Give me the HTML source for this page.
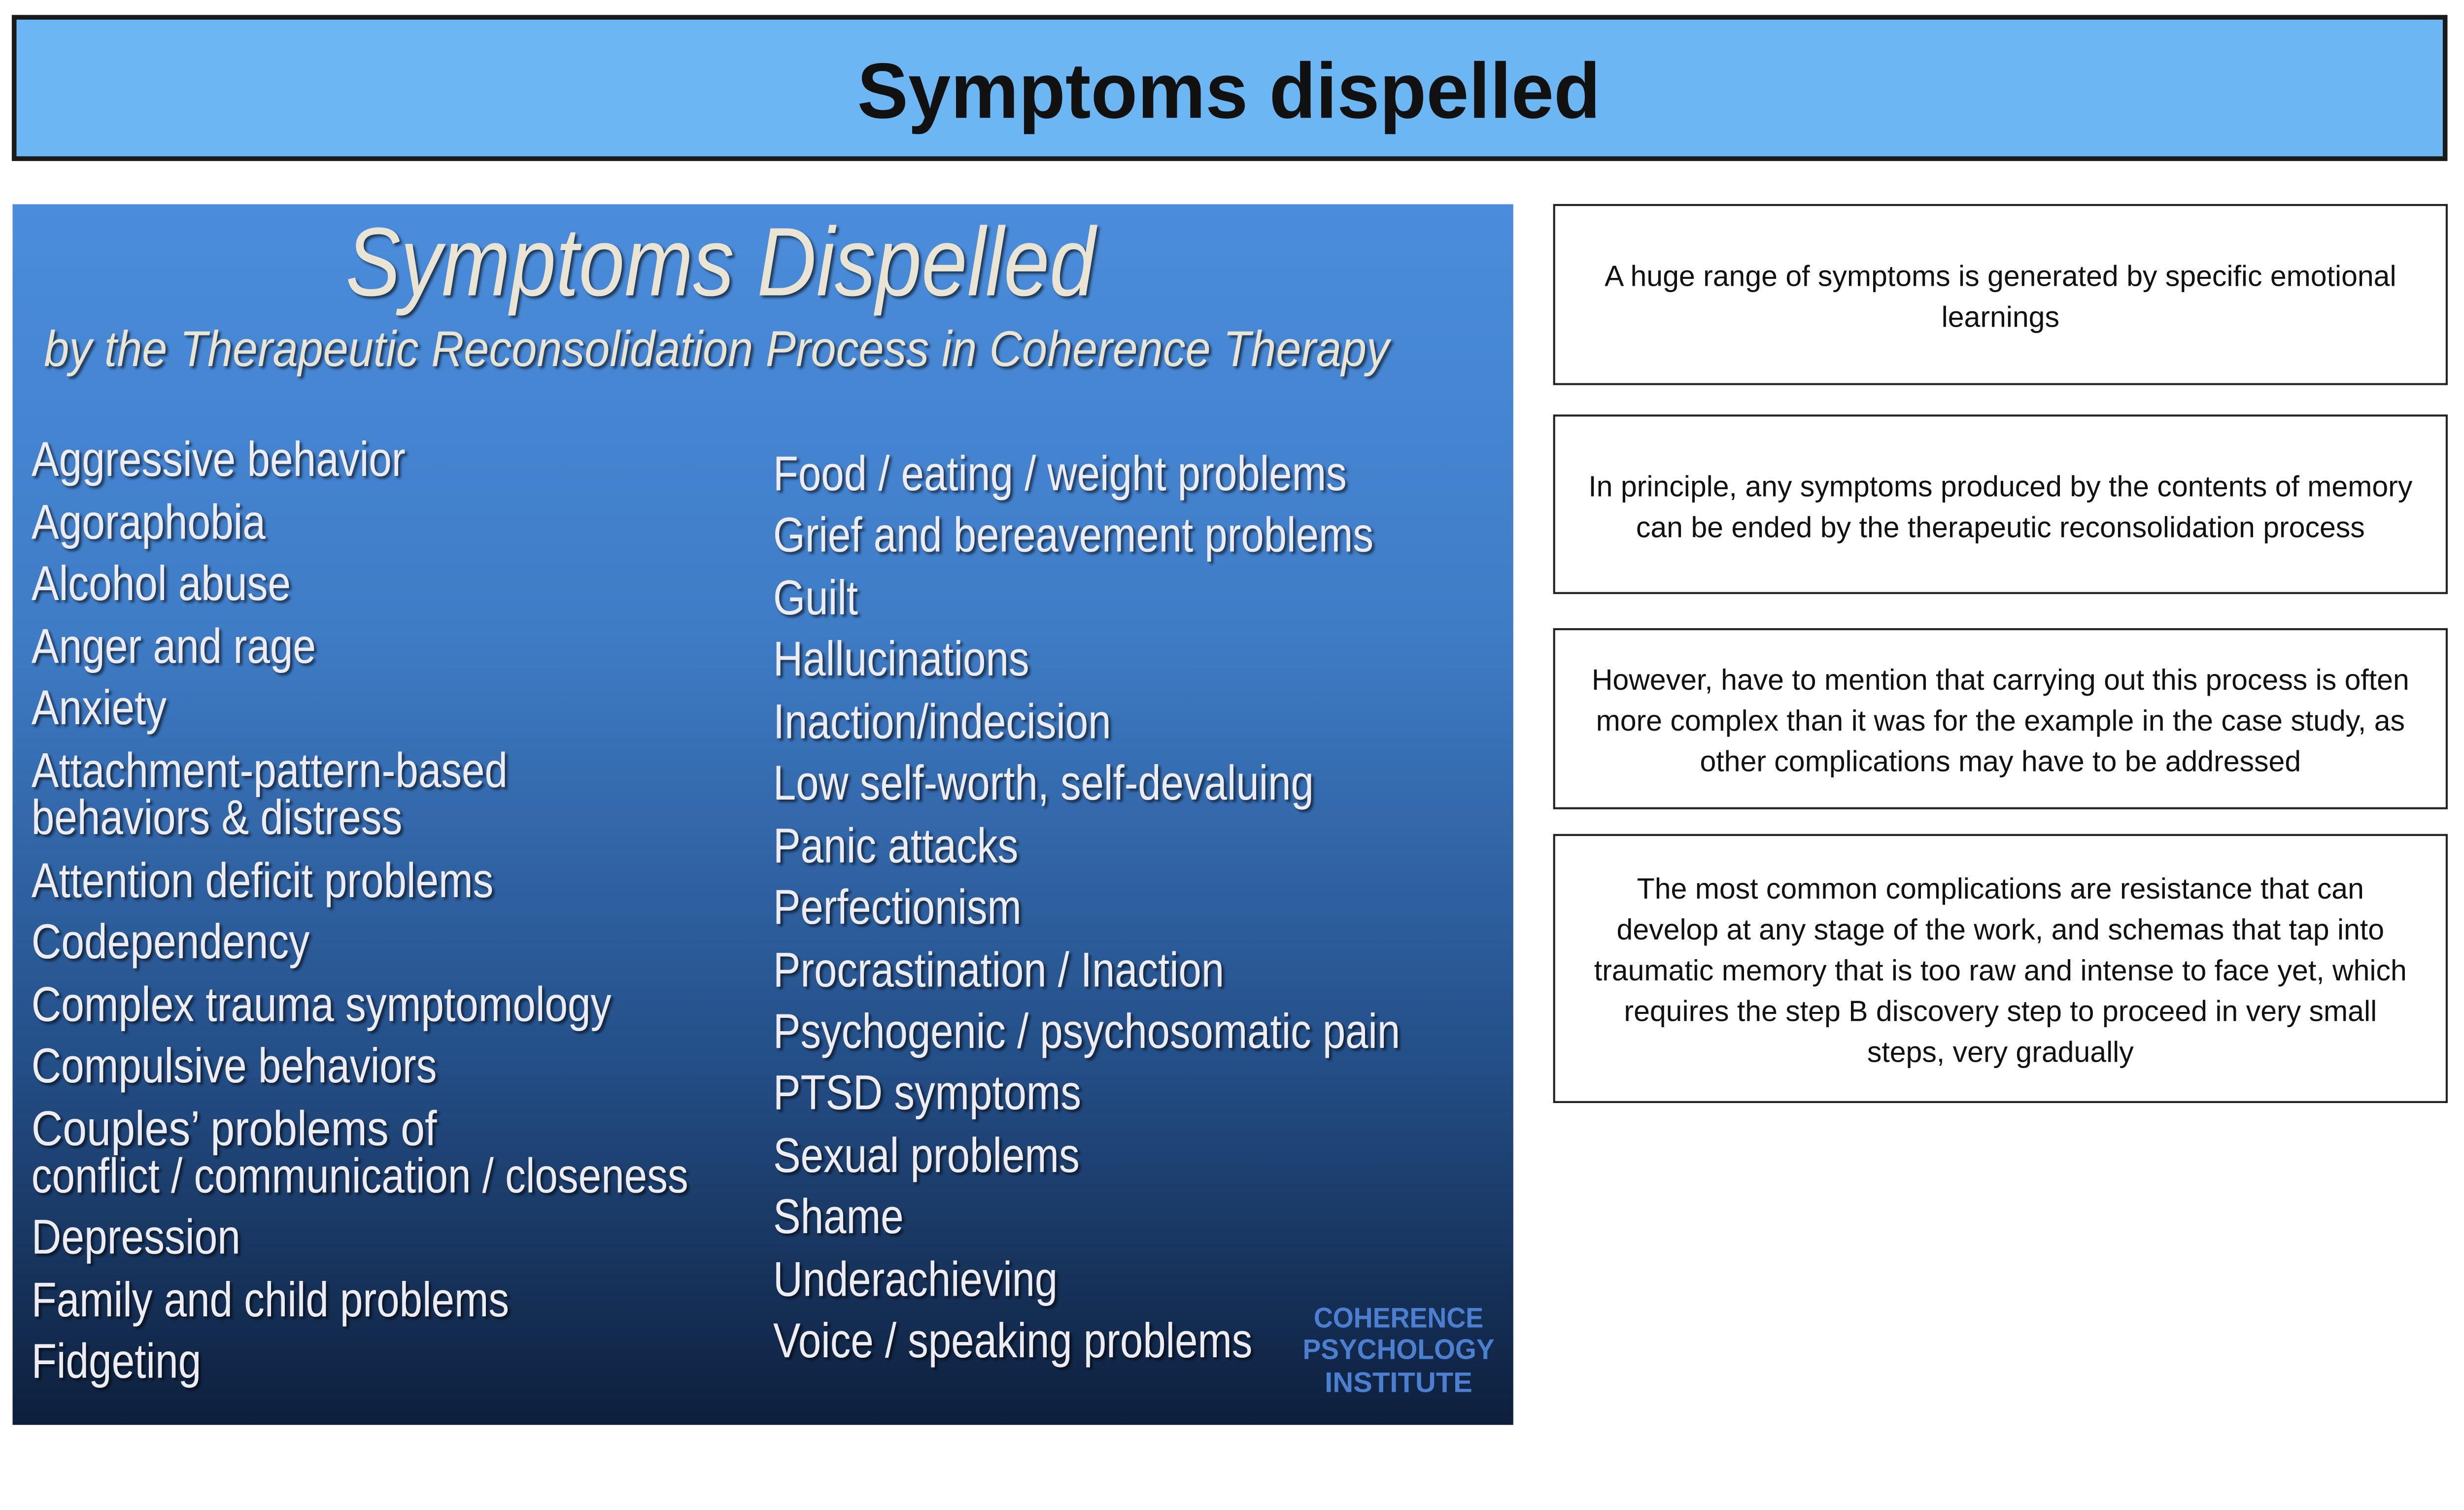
<!DOCTYPE html>
<html><head><meta charset="utf-8"><style>
html,body{margin:0;padding:0;background:#fff;width:100%;height:100%;overflow:hidden;}
svg{display:block;position:absolute;left:0;top:0;width:100vw;height:auto;}
</style></head><body>
<svg xmlns="http://www.w3.org/2000/svg" viewBox="0 0 1568 921" preserveAspectRatio="xMinYMin meet">
<defs>
<linearGradient id="g" x1="0" y1="0" x2="0" y2="1">
<stop offset="0" stop-color="#4b8ddc"/>
<stop offset="0.35" stop-color="#3f7cc6"/>
<stop offset="0.7" stop-color="#244f88"/>
<stop offset="1" stop-color="#0d1f3c"/>
</linearGradient>
<filter id="sh"><feDropShadow dx="1.5" dy="1.5" stdDeviation="0.8" flood-color="#000" flood-opacity="0.6"/></filter>
</defs>
<rect x="9" y="11" width="1547" height="90" fill="#6cb6f4" stroke="#1a1a1a" stroke-width="3"/>
<text x="782" y="75" text-anchor="middle" font-family="Liberation Sans, sans-serif" font-weight="bold" font-size="50" fill="#111" textLength="473" lengthAdjust="spacingAndGlyphs">Symptoms dispelled</text>

<rect x="8" y="130" width="955" height="777" fill="url(#g)"/>
<g font-family="Liberation Sans, sans-serif" font-style="italic" fill="#e9e4d4" filter="url(#sh)">
<text x="220" y="188" font-size="62" textLength="477" lengthAdjust="spacingAndGlyphs">Symptoms Dispelled</text>
<text x="28" y="233" font-size="32" textLength="856" lengthAdjust="spacingAndGlyphs">by the Therapeutic Reconsolidation Process in Coherence Therapy</text>
</g>
<g font-family="Liberation Sans, sans-serif" font-size="31" fill="#ececf2" filter="url(#sh)">
<text x="20" y="303" textLength="238" lengthAdjust="spacingAndGlyphs">Aggressive behavior</text>
<text x="20" y="343" textLength="149" lengthAdjust="spacingAndGlyphs">Agoraphobia</text>
<text x="20" y="382" textLength="165" lengthAdjust="spacingAndGlyphs">Alcohol abuse</text>
<text x="20" y="422" textLength="181" lengthAdjust="spacingAndGlyphs">Anger and rage</text>
<text x="20" y="461" textLength="86" lengthAdjust="spacingAndGlyphs">Anxiety</text>
<text x="20" y="501" textLength="303" lengthAdjust="spacingAndGlyphs">Attachment-pattern-based</text>
<text x="20" y="531" textLength="236" lengthAdjust="spacingAndGlyphs">behaviors &amp; distress</text>
<text x="20" y="571" textLength="294" lengthAdjust="spacingAndGlyphs">Attention deficit problems</text>
<text x="20" y="610" textLength="177" lengthAdjust="spacingAndGlyphs">Codependency</text>
<text x="20" y="650" textLength="369" lengthAdjust="spacingAndGlyphs">Complex trauma symptomology</text>
<text x="20" y="689" textLength="258" lengthAdjust="spacingAndGlyphs">Compulsive behaviors</text>
<text x="20" y="729" textLength="258" lengthAdjust="spacingAndGlyphs">Couples’ problems of</text>
<text x="20" y="759" textLength="418" lengthAdjust="spacingAndGlyphs">conflict / communication / closeness</text>
<text x="20" y="798" textLength="133" lengthAdjust="spacingAndGlyphs">Depression</text>
<text x="20" y="838" textLength="304" lengthAdjust="spacingAndGlyphs">Family and child problems</text>
<text x="20" y="877" textLength="108" lengthAdjust="spacingAndGlyphs">Fidgeting</text>

<text x="492" y="312" textLength="365" lengthAdjust="spacingAndGlyphs">Food / eating / weight problems</text>
<text x="492" y="351" textLength="382" lengthAdjust="spacingAndGlyphs">Grief and bereavement problems</text>
<text x="492" y="391" textLength="54" lengthAdjust="spacingAndGlyphs">Guilt</text>
<text x="492" y="430" textLength="163" lengthAdjust="spacingAndGlyphs">Hallucinations</text>
<text x="492" y="470" textLength="215" lengthAdjust="spacingAndGlyphs">Inaction/indecision</text>
<text x="492" y="509" textLength="344" lengthAdjust="spacingAndGlyphs">Low self-worth, self-devaluing</text>
<text x="492" y="549" textLength="156" lengthAdjust="spacingAndGlyphs">Panic attacks</text>
<text x="492" y="588" textLength="158" lengthAdjust="spacingAndGlyphs">Perfectionism</text>
<text x="492" y="628" textLength="287" lengthAdjust="spacingAndGlyphs">Procrastination / Inaction</text>
<text x="492" y="667" textLength="399" lengthAdjust="spacingAndGlyphs">Psychogenic / psychosomatic pain</text>
<text x="492" y="706" textLength="196" lengthAdjust="spacingAndGlyphs">PTSD symptoms</text>
<text x="492" y="746" textLength="195" lengthAdjust="spacingAndGlyphs">Sexual problems</text>
<text x="492" y="785" textLength="83" lengthAdjust="spacingAndGlyphs">Shame</text>
<text x="492" y="825" textLength="181" lengthAdjust="spacingAndGlyphs">Underachieving</text>
<text x="492" y="864" textLength="305" lengthAdjust="spacingAndGlyphs">Voice / speaking problems</text>
</g>
<g font-family="Liberation Sans, sans-serif" font-weight="bold" font-size="18" fill="#4d7fd0" text-anchor="middle">
<text x="890" y="845" textLength="108" lengthAdjust="spacingAndGlyphs">COHERENCE</text>
<text x="890" y="865" textLength="122" lengthAdjust="spacingAndGlyphs">PSYCHOLOGY</text>
<text x="890" y="886" textLength="94" lengthAdjust="spacingAndGlyphs">INSTITUTE</text>
</g>

<g fill="#fff" stroke="#222" stroke-width="1.3">
<rect x="989" y="130.5" width="568" height="114"/>
<rect x="989" y="264.5" width="568" height="113"/>
<rect x="989" y="400.5" width="568" height="114"/>
<rect x="989" y="531.5" width="568" height="170"/>
</g>
<g font-family="Liberation Sans, sans-serif" font-size="18.5" fill="#111" text-anchor="middle">
<text x="1273" y="182">A huge range of symptoms is generated by specific emotional</text>
<text x="1273" y="208">learnings</text>
<text x="1273" y="316">In principle, any symptoms produced by the contents of memory</text>
<text x="1273" y="342">can be ended by the therapeutic reconsolidation process</text>
<text x="1273" y="439">However, have to mention that carrying out this process is often</text>
<text x="1273" y="465">more complex than it was for the example in the case study, as</text>
<text x="1273" y="491">other complications may have to be addressed</text>
<text x="1273" y="572">The most common complications are resistance that can</text>
<text x="1273" y="598">develop at any stage of the work, and schemas that tap into</text>
<text x="1273" y="624">traumatic memory that is too raw and intense to face yet, which</text>
<text x="1273" y="650">requires the step B discovery step to proceed in very small</text>
<text x="1273" y="676">steps, very gradually</text>
</g>
</svg>
</body></html>
